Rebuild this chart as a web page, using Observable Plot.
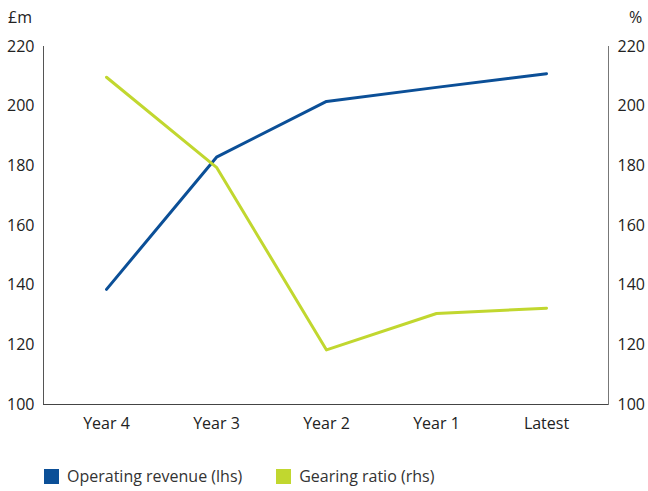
<!DOCTYPE html>
<html>
<head>
<meta charset="utf-8">
<script src="https://cdn.jsdelivr.net/npm/d3@7"></script>
<script src="https://cdn.jsdelivr.net/npm/@observablehq/plot@0.6"></script>
<style>
  body { margin: 0; background: #fff; font-family: "Open Sans", sans-serif; }
  #wrap { position: relative; width: 648px; }
  .unit { position: absolute; top: 6px; font-size: 16px; color: #222; }
  #legend { display: flex; align-items: center; height: 22px; margin-top: 15px; padding-left: 44px; font-size: 16px; color: #333; }
  .sw { display: inline-block; width: 15px; height: 15px; margin-right: 8px; }
  .item { display: flex; align-items: center; margin-right: 34px; }
</style>
</head>
<body>
<div id="wrap">
  <div class="unit" style="left:8px">£m</div>
  <div class="unit" style="left:629px">%</div>
  <div id="chart"></div>
  <div id="legend"></div>
</div>
<script>
const periods = ["Year 4", "Year 3", "Year 2", "Year 1", "Latest"];
const operatingRevenue = [138.6, 182.9, 201.6, 206.3, 210.9];
const gearingRatio = [209.7, 179.5, 118.3, 130.5, 132.3];
const yTicks = [100, 120, 140, 160, 180, 200, 220];
const seriesNames = ["Operating revenue (lhs)", "Gearing ratio (rhs)"];
const seriesColors = ["#0b4f97", "#c1d72f"];

const revData = periods.map((p, i) => ({period: p, value: operatingRevenue[i]}));
const gearData = periods.map((p, i) => ({period: p, value: gearingRatio[i]}));

const chart = Plot.plot({
  width: 648,
  height: 450,
  marginLeft: 43,
  marginRight: 40,
  marginTop: 46,
  marginBottom: 46,
  style: {fontFamily: "Open Sans, sans-serif", fontSize: "16px", color: "#222", background: "#fff"},
  x: {type: "point", domain: periods, padding: 0.55},
  y: {domain: [100, 220]},
  marks: [
    Plot.frame({anchor: "left", stroke: "#555"}),
    Plot.frame({anchor: "right", stroke: "#777"}),
    Plot.ruleY([100], {stroke: "#444"}),
    Plot.axisY({anchor: "left", ticks: yTicks, tickSize: 0, tickPadding: 9, label: null}),
    Plot.axisY({anchor: "right", ticks: yTicks, tickSize: 0, tickPadding: 9, label: null}),
    Plot.axisX({tickSize: 0, tickPadding: 13, label: null}),
    Plot.line(revData, {x: "period", y: "value", stroke: seriesColors[0], strokeWidth: 3}),
    Plot.line(gearData, {x: "period", y: "value", stroke: seriesColors[1], strokeWidth: 3})
  ]
});
document.getElementById("chart").appendChild(chart);

const legend = document.getElementById("legend");
seriesNames.forEach((n, i) => {
  const it = document.createElement("span");
  it.className = "item";
  it.innerHTML = `<span class="sw" style="background:${seriesColors[i]}"></span>${n}`;
  legend.appendChild(it);
});
</script>
</body>
</html>
